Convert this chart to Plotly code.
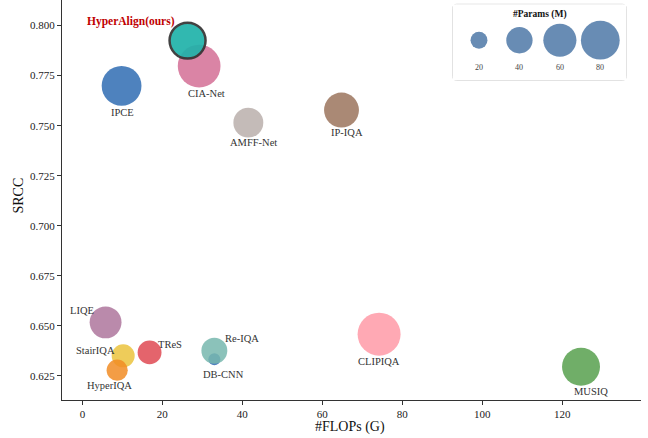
import plotly.graph_objects as go
import math

# ---- data ----
models = ["DB-CNN", "Re-IQA", "StairIQA", "HyperIQA", "TReS", "LIQE", "CLIPIQA", "MUSIQ",
          "AMFF-Net", "IP-IQA", "IPCE", "CIA-Net", "HyperAlign(ours)"]
flops = [33.0, 33.0, 10.2, 8.7, 16.8, 5.8, 74.2, 124.7, 41.5, 64.8, 9.8, 29.2, 26.3]
srcc = [0.6333, 0.6375, 0.6350, 0.6278, 0.6367, 0.6517, 0.6458, 0.6295, 0.7515, 0.7578, 0.7699, 0.7798, 0.7925]
params = [13, 39, 32, 28, 34, 56, 97, 77, 50, 66, 84, 96, 77]
legend_params = [20, 40, 60, 80]
x_ticks = [0, 20, 40, 60, 80, 100, 120]
y_ticks = [0.625, 0.650, 0.675, 0.700, 0.725, 0.750, 0.775, 0.800]

# ---- styles ----
colors = {
    "DB-CNN": "#316BB4", "Re-IQA": "#77B7AE", "StairIQA": "#EBC33D", "HyperIQA": "#F18C25",
    "TReS": "#DF4952", "LIQE": "#AE759C", "CLIPIQA": "#FF9AA7", "MUSIQ": "#57A04D",
    "AMFF-Net": "#BAAFAB", "IP-IQA": "#9B745D", "IPCE": "#2F6CB3", "CIA-Net": "#D36F95",
    "HyperAlign(ours)": "#20B2AA",
}
label_shift = {
    "DB-CNN": (9, -15), "Re-IQA": (28, 12), "StairIQA": (-28, 5), "HyperIQA": (-8, -15),
    "TReS": (20, 8), "LIQE": (-24, 12), "CLIPIQA": (0, -27), "MUSIQ": (10, -25),
    "AMFF-Net": (5, -20), "IP-IQA": (5, -22), "IPCE": (1, -27), "CIA-Net": (7, -27),
    "HyperAlign(ours)": (-57, 19),
}
FONT = "Liberation Serif, Times New Roman, serif"


def diam(p):
    return math.sqrt(20.3 * p - 120)


fig = go.Figure()
for m, fx, sy, p in zip(models, flops, srcc, params):
    ours = m == "HyperAlign(ours)"
    fig.add_trace(go.Scatter(
        x=[fx], y=[sy], mode="markers", name=m, showlegend=False,
        marker=dict(size=diam(p) - (2 if ours else 0), color=colors[m],
                    opacity=0.92 if ours else 0.85,
                    line=dict(width=2.5 if ours else 0, color="#333333")),
        hoverinfo="text", text=m,
    ))
    dx, dy = label_shift[m]
    fig.add_annotation(
        x=fx, y=sy, xref="x", yref="y", text=f"<b>{m}</b>" if ours else m, showarrow=False,
        xshift=dx, yshift=dy, xanchor="center", yanchor="middle",
        font=dict(family=FONT, size=11.5 if ours else 10.5, color="#C00000" if ours else "#333333"),
    )

# ---- size legend (own small axes) ----
x0, x1, y0, y1 = 0.6748, 0.9746, 0.7993, 0.9893
lx_range = [7.0, 92.85]
fig.add_trace(go.Scatter(
    x=legend_params, y=[0.527] * len(legend_params), xaxis="x2", yaxis="y2",
    mode="markers", showlegend=False, hoverinfo="skip",
    marker=dict(size=[diam(p) for p in legend_params], color="#4D78A7", opacity=0.85, line=dict(width=0)),
))
for p in legend_params:
    px = x0 + (p - lx_range[0]) / (lx_range[1] - lx_range[0]) * (x1 - x0)
    fig.add_annotation(x=px, y=0.832, xref="paper", yref="paper", text=str(p), showarrow=False,
                       xanchor="center", yanchor="middle",
                       font=dict(family=FONT, size=8, color="#444444"))
fig.add_annotation(x=(x0 + x1) / 2, y=0.965, xref="paper", yref="paper", text="<b>#Params (M)</b>",
                   showarrow=False, xanchor="center", yanchor="middle",
                   font=dict(family=FONT, size=9.5, color="#111111"))

rx, ry = 0.007, 0.01
path = (f"M {x0+rx},{y0} L {x1-rx},{y0} Q {x1},{y0} {x1},{y0+ry} L {x1},{y1-ry} "
        f"Q {x1},{y1} {x1-rx},{y1} L {x0+rx},{y1} Q {x0},{y1} {x0},{y1-ry} "
        f"L {x0},{y0+ry} Q {x0},{y0} {x0+rx},{y0} Z")
fig.add_shape(type="path", path=path, xref="paper", yref="paper",
              fillcolor="#F4F4F4", line=dict(color="#CCCCCC", width=1), layer="below")

# ---- axis titles ----
fig.add_annotation(x=0.4974, y=-0.067, xref="paper", yref="paper", text="#FLOPs (G)", showarrow=False,
                   xanchor="center", yanchor="middle", font=dict(family=FONT, size=14, color="#111111"))
fig.add_annotation(x=-0.0743, y=0.511, xref="paper", yref="paper", text="SRCC", showarrow=False,
                   textangle=-90, xanchor="center", yanchor="middle",
                   font=dict(family=FONT, size=14, color="#111111"))

axis_common = dict(showgrid=False, zeroline=False, showline=True, linecolor="#333333", linewidth=1.2,
                   ticks="outside", ticklen=4, tickwidth=1, tickcolor="#333333", automargin=False,
                   tickfont=dict(family=FONT, size=11, color="#222222"), mirror=False)

fig.update_layout(
    width=648, height=438,
    margin=dict(l=62, r=7, t=0, b=38, autoexpand=False),
    paper_bgcolor="white", plot_bgcolor="white",
    font=dict(family=FONT),
    hovermode=False,
    xaxis=dict(range=[-5.1, 139.7], tickvals=x_ticks, **axis_common),
    yaxis=dict(range=[0.6129, 0.8128], tickvals=y_ticks, tickformat=".3f", **axis_common),
    xaxis2=dict(domain=[x0, x1], anchor="y2", range=lx_range, visible=False),
    yaxis2=dict(domain=[y0, y1], anchor="x2", range=[0, 1], visible=False),
)

fig.write_html("out.html", config={"displayModeBar": False},
               post_script="document.body.style.margin='0';")
